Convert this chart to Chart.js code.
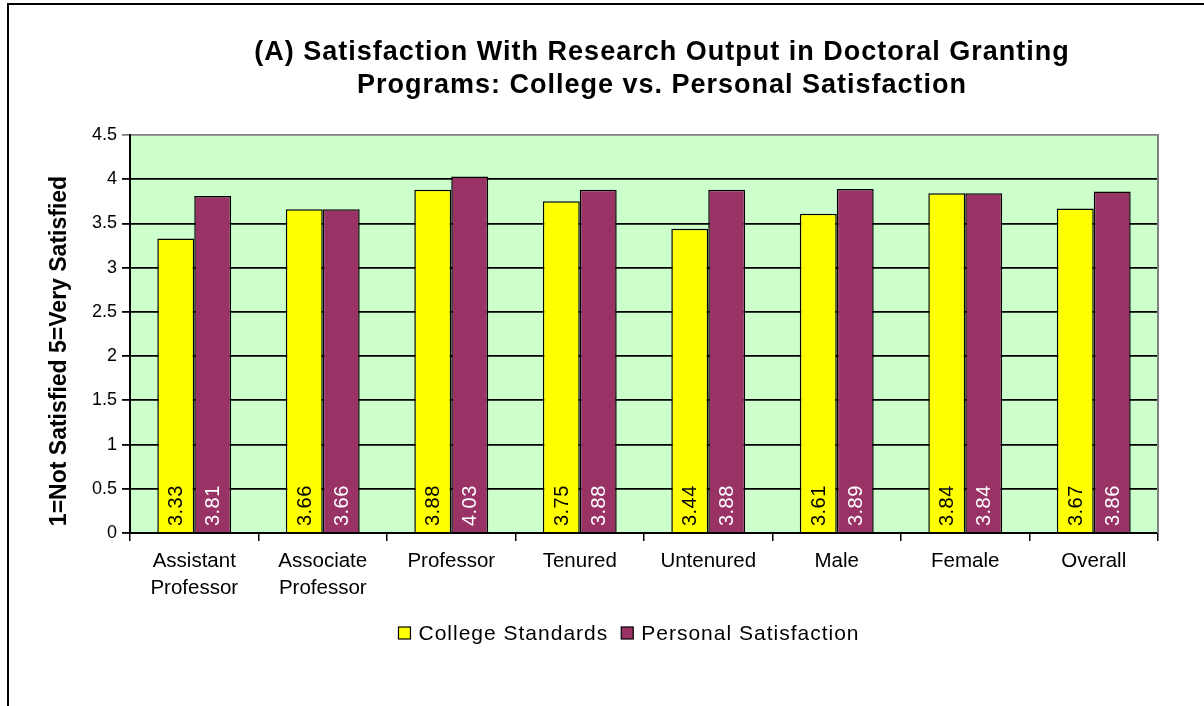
<!DOCTYPE html>
<html>
<head>
<meta charset="utf-8">
<script src="https://cdn.jsdelivr.net/npm/chart.js@4/dist/chart.umd.min.js"></script>
<style>
  html, body { margin: 0; padding: 0; background: #fff; }
  #wrap { position: relative; width: 1204px; height: 706px; overflow: hidden; }
  #frame { position: absolute; left: 7px; top: 3px; right: -10px; bottom: -10px;
           border-top: 2px solid #000; border-left: 2px solid #000; pointer-events: none; }
  canvas { position: absolute; left: 0; top: 0; }
</style>
</head>
<body>
<div id="wrap">
  <canvas id="chart" width="1204" height="706"></canvas>
  <div id="frame"></div>
</div>
<script>
// ─── data ───────────────────────────────────────────────────────────────
const CATEGORIES = [['Assistant', 'Professor'], ['Associate', 'Professor'], 'Professor', 'Tenured', 'Untenured', 'Male', 'Female', 'Overall'];
const COLLEGE    = [3.33, 3.66, 3.88, 3.75, 3.44, 3.61, 3.84, 3.67];
const PERSONAL   = [3.81, 3.66, 4.03, 3.88, 3.88, 3.89, 3.84, 3.86];
const SERIES     = ['College Standards', 'Personal Satisfaction'];
const Y_MIN = 0, Y_MAX = 4.5, Y_STEP = 0.5;

const TITLE  = ['(A) Satisfaction With Research Output in Doctoral Granting', 'Programs: College vs. Personal Satisfaction'];
const Y_TITLE = '1=Not Satisfied 5=Very Satisfied';

const FONT = '"Liberation Sans", Arial, sans-serif';
const C_YELLOW = '#ffff00', C_PLUM = '#993366', C_PLOT = '#ccffcc';

// plot background + gray right border
const plotBg = {
  id: 'plotBg',
  beforeDraw(chart) {
    const { ctx, chartArea: a } = chart;
    ctx.save();
    ctx.fillStyle = C_PLOT;
    ctx.fillRect(a.left, a.top, a.right - a.left, a.bottom - a.top);
    ctx.restore();
  },
  afterDraw(chart) {
    const { ctx, chartArea: a } = chart;
    ctx.save();
    ctx.strokeStyle = '#808080';
    ctx.lineWidth = 2;
    ctx.beginPath();
    ctx.moveTo(a.right, a.top - 1);
    ctx.lineTo(a.right, a.bottom);
    ctx.stroke();
    ctx.restore();
  }
};

// vertical value labels inside the bars
const barLabels = {
  id: 'barLabels',
  afterDatasetsDraw(chart) {
    const { ctx } = chart;
    ctx.save();
    ctx.font = `20px ${FONT}`;
    if ('letterSpacing' in ctx) ctx.letterSpacing = '0.5px';
    ctx.textAlign = 'left';
    ctx.textBaseline = 'middle';
    chart.data.datasets.forEach((ds, i) => {
      chart.getDatasetMeta(i).data.forEach((bar, j) => {
        ctx.save();
        ctx.translate(bar.x, bar.base - 6);
        ctx.rotate(-Math.PI / 2);
        ctx.fillStyle = i === 0 ? '#000' : '#fff';
        ctx.fillText(ds.data[j].toFixed(2), 0, 1);
        ctx.restore();
      });
    });
    ctx.restore();
  }
};

// title, y-axis title, legend
const textBits = {
  id: 'textBits',
  afterDraw(chart) {
    const { ctx } = chart;
    ctx.save();
    ctx.fillStyle = '#000';
    if ('letterSpacing' in ctx) ctx.letterSpacing = '1px';

    ctx.font = `bold 27px ${FONT}`;
    ctx.textAlign = 'center';
    ctx.textBaseline = 'middle';
    ctx.fillText(TITLE[0], 662, 53);
    ctx.fillText(TITLE[1], 662, 86);

    ctx.save();
    if ('letterSpacing' in ctx) ctx.letterSpacing = '0px';
    ctx.font = `bold 23px ${FONT}`;
    ctx.translate(60, 351);
    ctx.rotate(-Math.PI / 2);
    ctx.fillText(Y_TITLE, 0, 0);
    ctx.restore();

    // legend
    ctx.font = `21px ${FONT}`;
    ctx.textAlign = 'left';
    const box = 12, gapBox = 8, gapItem = 13;
    const items = chart.data.datasets.map(ds => ({ label: ds.label, color: ds.backgroundColor, w: ctx.measureText(ds.label).width }));
    const total = items.reduce((s, it) => s + box + gapBox + it.w, 0) + gapItem * (items.length - 1);
    let x = 629 - total / 2;
    const y = 633;
    items.forEach(it => {
      ctx.fillStyle = it.color;
      ctx.fillRect(x, y - box / 2, box, box);
      ctx.strokeStyle = '#000';
      ctx.lineWidth = 1.2;
      ctx.strokeRect(x, y - box / 2, box, box);
      ctx.fillStyle = '#000';
      ctx.fillText(it.label, x + box + gapBox, y + 1);
      x += box + gapBox + it.w + gapItem;
    });
    ctx.restore();
  }
};

new Chart(document.getElementById('chart').getContext('2d'), {
  type: 'bar',
  data: {
    labels: CATEGORIES,
    datasets: [
      { label: SERIES[0], data: COLLEGE,  backgroundColor: C_YELLOW, borderColor: '#000', borderWidth: 1.5, borderSkipped: 'start' },
      { label: SERIES[1], data: PERSONAL, backgroundColor: C_PLUM,   borderColor: '#000', borderWidth: 1.5, borderSkipped: 'start' },
    ]
  },
  options: {
    responsive: false,
    animation: false,
    layout: { padding: { top: 135, right: 46, bottom: 0, left: 0 } },
    datasets: { bar: { categoryPercentage: 0.575, barPercentage: 1 } },
    plugins: { legend: { display: false }, title: { display: false }, tooltip: { enabled: false } },
    scales: {
      x: {
        afterFit: s => { s.height = 173; },
        grid: { drawOnChartArea: false, drawTicks: true, tickLength: 8, color: '#000', lineWidth: 1.5 },
        border: { color: '#000', width: 2 },
        ticks: { color: '#000', font: { family: FONT, size: 20.5, lineHeight: 1.3 }, padding: 7, maxRotation: 0, autoSkip: false }
      },
      y: {
        min: Y_MIN, max: Y_MAX,
        afterFit: s => { s.width = 130; },
        grid: { color: c => (c.tick && c.tick.value === Y_MAX ? '#808080' : '#000'), lineWidth: 1.8, tickLength: 8 },
        border: { color: '#000', width: 2 },
        ticks: { stepSize: Y_STEP, color: '#000', font: { family: FONT, size: 18 }, padding: 5, callback: v => String(v) }
      }
    }
  },
  plugins: [plotBg, barLabels, textBits]
});
</script>
</body>
</html>
